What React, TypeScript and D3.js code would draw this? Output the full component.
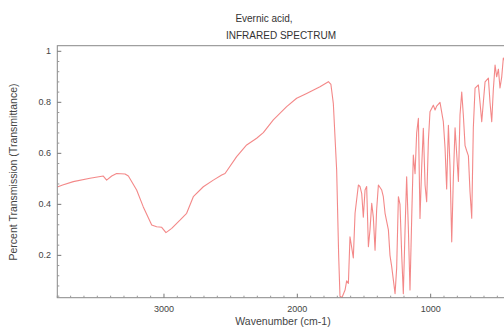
import React from "react";
import * as d3 from "d3";

const titleLines = ["Evernic acid,", "INFRARED SPECTRUM"];
const xLabel = "Wavenumber (cm-1)";
const yLabel = "Percent Transmission (Transmittance)";
const xTicks = [3000, 2000, 1000];
const yTicks = [0.2, 0.4, 0.6, 0.8, 1];

const wavenumbers = [
  3800, 3760, 3680, 3555, 3455, 3430, 3392, 3355, 3292, 3267, 3205, 3155, 3092, 3055, 3017, 2985,
  2942, 2880, 2830, 2780, 2705, 2630, 2567, 2542, 2455, 2380, 2305, 2255, 2180, 2080, 2005, 1930,
  1830, 1767, 1748, 1730, 1705, 1690, 1680, 1665, 1642, 1630, 1617, 1605, 1592, 1580, 1567, 1542,
  1530, 1517, 1505, 1492, 1480, 1467, 1455, 1442, 1430, 1417, 1405, 1392, 1367, 1355, 1342, 1317,
  1305, 1292, 1267, 1255, 1242, 1230, 1217, 1205, 1192, 1180, 1167, 1155, 1142, 1130, 1117, 1105,
  1092, 1080, 1067, 1055, 1042, 1030, 1017, 1005, 980, 967, 955, 930, 905, 892, 880, 867,
  855, 842, 830, 817, 805, 792, 780, 767, 755, 742, 730, 717, 705, 692, 680, 667,
  642, 630, 617, 605, 592, 567, 555, 542, 530, 517, 505, 492, 480, 467, 455, 442,
];
const transmittance = [
  0.468, 0.476, 0.489, 0.502, 0.511, 0.495, 0.511, 0.521, 0.519, 0.511, 0.456, 0.39, 0.319, 0.312, 0.31, 0.289,
  0.306, 0.338, 0.365, 0.43, 0.469, 0.495, 0.515, 0.521, 0.587, 0.633, 0.659, 0.681, 0.731, 0.783, 0.816, 0.835,
  0.861, 0.881, 0.87, 0.796, 0.535, 0.2, 0.04, 0.035, 0.064, 0.1, 0.09, 0.273, 0.23, 0.19, 0.365, 0.476,
  0.47, 0.442, 0.35, 0.456, 0.47, 0.234, 0.3, 0.404, 0.35, 0.22, 0.38, 0.476, 0.456, 0.43, 0.365, 0.3,
  0.2, 0.155, 0.05, 0.15, 0.43, 0.4, 0.2, 0.05, 0.3, 0.508, 0.3, 0.064, 0.35, 0.593, 0.52, 0.68,
  0.737, 0.345, 0.55, 0.698, 0.476, 0.41, 0.65, 0.763, 0.789, 0.77, 0.785, 0.8, 0.724, 0.62, 0.46, 0.71,
  0.55, 0.253, 0.5, 0.7, 0.6, 0.49, 0.75, 0.84, 0.75, 0.63, 0.61, 0.59, 0.45, 0.346, 0.7, 0.856,
  0.868, 0.8, 0.724, 0.8, 0.88, 0.895, 0.8, 0.724, 0.85, 0.946, 0.9, 0.93, 0.856, 0.9, 0.974, 0.96,
];

const W = 504;
const H = 327;
const left = 57.3;
const right = 504;
const top = 45.7;
const bottom = 297.7;
const font = "'Liberation Sans', Arial, sans-serif";

export default function App() {
  const x = d3.scaleLinear().domain([3800, 450]).range([left, right]);
  const y = d3.scaleLinear().domain([0.034, 1.022]).range([bottom, top]);
  const data = wavenumbers.map((w, i) => [w, transmittance[i]] as [number, number]);
  const line = d3
    .line<[number, number]>()
    .x((d) => x(d[0]))
    .y((d) => y(d[1]));

  const xMinor = d3.range(3800, 449, -100).filter((v) => v % 1000 !== 0);
  const yMinor = d3.range(0.04, 1.02, 0.04).filter((v) => Math.abs(v * 5 - Math.round(v * 5)) > 1e-6);

  return (
    <svg width={W} height={H} style={{ position: "absolute", left: 0, top: 0, background: "#fff" }}>
      <defs>
        <clipPath id="plotclip">
          <rect x={left} y={top} width={right - left} height={bottom - top} />
        </clipPath>
      </defs>
      <text x={264} y={21.5} fontSize={10} fontFamily={font} fill="#333" textAnchor="middle">
        {titleLines[0]}
      </text>
      <text x={281} y={38.5} fontSize={10} fontFamily={font} fill="#333" textAnchor="middle">
        {titleLines[1]}
      </text>
      <path
        d={line(data) || ""}
        fill="none"
        stroke="#f06a6a"
        strokeWidth={1.1}
        strokeOpacity={0.8}
        strokeLinejoin="round"
        clipPath="url(#plotclip)"
      />
      <rect x={left} y={top} width={right - left + 5} height={bottom - top} fill="none" stroke="#888" strokeWidth={1} />
      {xTicks.map((t) => (
        <g key={"x" + t}>
          <line x1={x(t)} x2={x(t)} y1={bottom} y2={bottom - 4} stroke="#777" />
          <text x={x(t)} y={312} fontSize={9} fontFamily={font} fill="#444" textAnchor="middle">
            {t}
          </text>
        </g>
      ))}
      {xMinor.map((t) => (
        <line key={"xm" + t} x1={x(t)} x2={x(t)} y1={bottom} y2={bottom - 2} stroke="#999" />
      ))}
      {yTicks.map((t) => (
        <g key={"y" + t}>
          <line x1={left} x2={left + 4} y1={y(t)} y2={y(t)} stroke="#777" />
          <text x={51} y={y(t) + 3} fontSize={9} fontFamily={font} fill="#444" textAnchor="end">
            {t}
          </text>
        </g>
      ))}
      {yMinor.map((t) => (
        <line key={"ym" + t} x1={left} x2={left + 2} y1={y(t)} y2={y(t)} stroke="#999" />
      ))}
      <text x={283} y={325} fontSize={10.5} fontFamily={font} fill="#444" textAnchor="middle">
        {xLabel}
      </text>
      <text
        transform={`translate(16.5, ${172}) rotate(-90)`}
        fontSize={10.5}
        fontFamily={font}
        fill="#444"
        textAnchor="middle"
      >
        {yLabel}
      </text>
    </svg>
  );
}
